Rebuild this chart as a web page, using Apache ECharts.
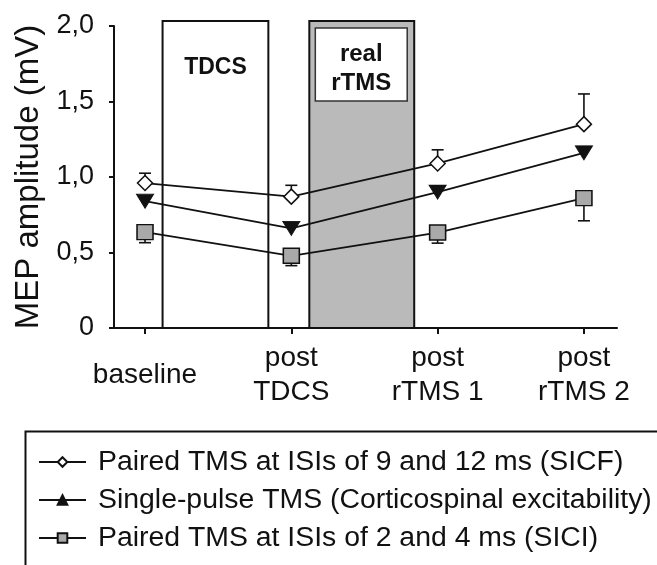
<!DOCTYPE html>
<html><head><meta charset="utf-8">
<script src="https://cdn.jsdelivr.net/npm/echarts@6/dist/echarts.min.js"></script>
<style>html,body{margin:0;padding:0;background:#fff}#c{width:657px;height:565px}</style>
</head><body><div id="c"></div>
<script>
// ---- data ----
const categories = ['baseline', 'post\nTDCS', 'post\nrTMS 1', 'post\nrTMS 2'];
const categoryPos = [0, 1, 2, 3];
const yTickValues = [0, 0.5, 1.0, 1.5, 2.0];
const yTickLabels = ['0', '0,5', '1,0', '1,5', '2,0'];
const sicf = [0.96, 0.87, 1.09, 1.35];
const sicfErr = [0.065, 0.075, 0.09, 0.20];     // upward error bars
const single = [0.84, 0.66, 0.90, 1.16];
const sici = [0.635, 0.478, 0.632, 0.86];
const siciErr = [0.07, 0.065, 0.07, 0.15];      // downward error bars
const seriesNames = [
  'Paired TMS at ISIs of 9 and 12 ms (SICF)',
  'Single-pulse TMS (Corticospinal excitability)',
  'Paired TMS at ISIs of 2 and 4 ms (SICI)'
];
const phaseLabels = ['TDCS', 'real\nrTMS'];
const phaseStart = [0.12, 1.123];
const phaseEnd = [0.843, 1.84];
const phaseTop = [2.033, 2.033];

// ---- chart ----
const ink = '#111';
const font = 'Liberation Sans, Arial, sans-serif';
const chart = echarts.init(document.getElementById('c'), null, {renderer: 'canvas'});

function pts(vals) { return categoryPos.map((x, i) => [x, vals[i]]); }
function errPts(vals, errs, sign) { return categoryPos.map((x, i) => [x, vals[i], sign * errs[i]]); }

function renderErr(params, api) {
  const x = api.value(0), y = api.value(1), e = api.value(2);
  const p0 = api.coord([x, y]);
  const p1 = api.coord([x, y + e]);
  const st = {stroke: ink, lineWidth: 1.6};
  return {type: 'group', children: [
    {type: 'line', shape: {x1: p0[0], y1: p0[1], x2: p1[0], y2: p1[1]}, style: st},
    {type: 'line', shape: {x1: p1[0] - 6, y1: p1[1], x2: p1[0] + 6, y2: p1[1]}, style: st}
  ]};
}

function renderPhase(params, api) {
  const i = params.dataIndex;
  const a = api.coord([api.value(0), api.value(2)]);
  const b = api.coord([api.value(1), 0]);
  const w = b[0] - a[0], h = b[1] - a[1];
  const children = [];
  if (i === 0) {
    children.push({type: 'rect', shape: {x: a[0], y: a[1], width: w, height: h},
      style: {fill: '#fff', stroke: ink, lineWidth: 2}});
    children.push({type: 'text', x: a[0] + w / 2, y: a[1] + 47,
      style: {text: phaseLabels[i], font: 'bold 23px ' + font, fill: ink, align: 'center', verticalAlign: 'middle'}});
  } else {
    children.push({type: 'rect', shape: {x: a[0], y: a[1], width: w, height: h},
      style: {fill: '#bababa', stroke: ink, lineWidth: 2}});
    children.push({type: 'rect', shape: {x: a[0] + 6, y: a[1] + 7, width: w - 13, height: 73},
      style: {fill: '#fff', stroke: '#333', lineWidth: 1.5}});
    children.push({type: 'text', x: a[0] + w / 2 - 0.5, y: a[1] + 48,
      style: {text: phaseLabels[i], font: 'bold 24px ' + font, fill: ink, align: 'center', verticalAlign: 'middle', lineHeight: 29}});
  }
  return {type: 'group', children};
}

const lineCommon = {
  type: 'line', z: 5, lineStyle: {color: ink, width: 1.7}, animation: false
};

const option = {
  animation: false,
  backgroundColor: '#fff',
  grid: {left: 114, right: 40, top: 26, bottom: 237},
  xAxis: {
    type: 'value', min: -0.212, max: 3.226,
    axisLine: {show: true, onZero: false, lineStyle: {color: ink, width: 2}},
    axisTick: {show: true, customValues: categoryPos, length: 6, lineStyle: {color: ink, width: 2}},
    axisLabel: {show: true, customValues: categoryPos, margin: 47, verticalAlign: 'middle',
      formatter: v => categories[categoryPos.indexOf(v)],
      fontSize: 28, lineHeight: 34, color: ink, fontFamily: font},
    splitLine: {show: false}
  },
  yAxis: {
    type: 'value', min: 0, max: 2, interval: 0.5,
    name: 'MEP amplitude (mV)', nameLocation: 'middle', nameGap: 60,
    nameTextStyle: {fontSize: 33, color: ink, fontFamily: font},
    axisLine: {show: true, onZero: false, lineStyle: {color: ink, width: 2}},
    axisTick: {show: true, length: 5, lineStyle: {color: ink, width: 2}},
    axisLabel: {fontSize: 27, color: ink, fontFamily: font, margin: 20,
      formatter: v => yTickLabels[yTickValues.indexOf(v)]},
    splitLine: {show: false}
  },
  legend: {
    left: 38, top: 448, orient: 'vertical', padding: 0,
    itemWidth: 47, itemHeight: 12, itemGap: 10, symbolRotate: 0,
    selectedMode: false,
    textStyle: {fontSize: 28.4, color: ink, fontFamily: font, padding: [0, 0, 0, 7]},
    data: seriesNames
  },
  graphic: [{
    type: 'rect', left: 23, top: 429, z: 0,
    shape: {x: 0, y: 0, width: 633, height: 200},
    style: {fill: 'none', stroke: ink, lineWidth: 2}
  }],
  series: [
    {type: 'custom', name: 'phases', z: 1, clip: false, renderItem: renderPhase,
      data: phaseStart.map((s, i) => [s, phaseEnd[i], phaseTop[i]]), silent: true},
    {type: 'custom', name: 'sicfErr', z: 3, renderItem: renderErr, data: errPts(sicf, sicfErr, 1), silent: true},
    {type: 'custom', name: 'siciErr', z: 3, renderItem: renderErr, data: errPts(sici, siciErr, -1), silent: true},
    Object.assign({}, lineCommon, {name: seriesNames[0], data: pts(sicf), symbol: 'diamond', symbolSize: [15, 15],
      itemStyle: {color: '#fff', borderColor: ink, borderWidth: 1.5}}),
    Object.assign({}, lineCommon, {name: seriesNames[1], data: pts(single), symbol: 'triangle', symbolRotate: 180, symbolSize: [17, 14],
      itemStyle: {color: ink, borderColor: ink, borderWidth: 1}}),
    Object.assign({}, lineCommon, {name: seriesNames[2], data: pts(sici), symbol: 'rect', symbolSize: [16, 15],
      itemStyle: {color: '#a9a9a9', borderColor: ink, borderWidth: 1.5}})
  ]
};
chart.setOption(option);
</script>
</body></html>
